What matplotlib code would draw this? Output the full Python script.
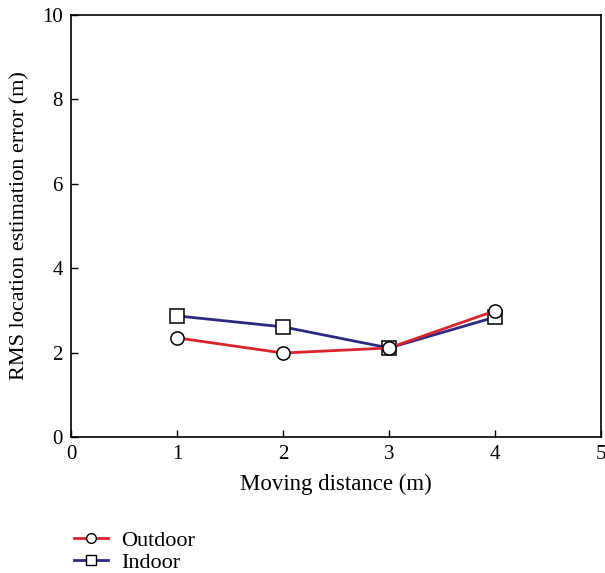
import matplotlib
matplotlib.use("Agg")
import matplotlib.pyplot as plt
from matplotlib.lines import Line2D

plt.rcParams['font.family'] = ['Liberation Serif', 'DejaVu Serif']

distance = [1, 2, 3, 4]
outdoor = [2.35, 1.99, 2.11, 2.99]
indoor = [2.87, 2.61, 2.11, 2.84]

fig = plt.figure(figsize=(6.05, 5.73), dpi=100)
ax = fig.add_axes([71/605, 1-437/573, 530/605, 422/573])

ax.plot(distance, indoor, color='#2b2a7f', lw=2, marker='s', ms=9.5,
        mfc='white', mec='black', mew=1.1, zorder=3)
ax.plot(distance, outdoor, color='#d9232d', lw=2, marker='o', ms=9.5,
        mfc='white', mec='black', mew=1.1, zorder=4)

ax.set_xlim(0, 5)
ax.set_ylim(0, 10)
ax.set_xticks([0, 1, 2, 3, 4, 5])
ax.set_yticks([0, 2, 4, 6, 8, 10])
ax.tick_params(direction='in', length=5, width=1, labelsize=15, pad=6, top=False, right=False)
for s in ax.spines.values():
    s.set_linewidth(1.2)
ax.set_xlabel('Moving distance (m)', fontsize=16.5, labelpad=7)
ax.set_ylabel('RMS location estimation error (m)', fontsize=16, labelpad=9)

handles = [
    Line2D([], [], color='#d9232d', lw=2, marker='o', ms=7, mfc='white', mec='black'),
    Line2D([], [], color='#2b2a7f', lw=2, marker='s', ms=7, mfc='white', mec='black'),
]
fig.legend(handles, ['Outdoor', 'Indoor'], loc='upper left',
           bbox_to_anchor=(58/605, 1-515/573), frameon=False, fontsize=16,
           handlelength=1.55, labelspacing=0.05, handletextpad=0.6,
           borderpad=0.2)

fig.savefig('out.png', dpi=100)
